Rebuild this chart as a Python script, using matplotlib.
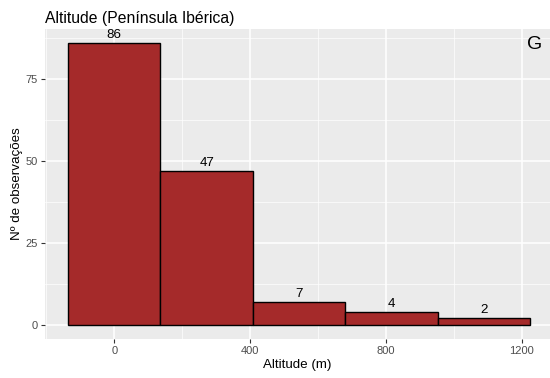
import numpy as np
import matplotlib
matplotlib.use("Agg")
import matplotlib.pyplot as plt

plt.rcParams['font.family'] = ['Liberation Sans', 'DejaVu Sans']

# histogram of altitude, 5 bins
bin_centers = [0, 272, 544, 816, 1088]
bin_width = 272
counts = [86, 47, 7, 4, 2]
x_ticks = [0, 400, 800, 1200]
y_ticks = [0, 25, 50, 75]

fig = plt.figure(figsize=(5.5, 3.78), dpi=100)
ax = fig.add_axes([45/550, 39/378, 505/550, 310/378])
ax.set_facecolor('#EBEBEB')

ax.set_xlim(-204, 1283)
ax.set_ylim(-4.3, 90.3)

# grid like ggplot
for v in [-200, 200, 600, 1000]:
    ax.axvline(v, color='white', lw=0.5, zorder=0)
for v in [12.5, 37.5, 62.5, 87.5]:
    ax.axhline(v, color='white', lw=0.5, zorder=0)
for v in x_ticks:
    ax.axvline(v, color='white', lw=1.1, zorder=0)
for v in y_ticks:
    ax.axhline(v, color='white', lw=1.1, zorder=0)

ax.bar(bin_centers, counts, width=bin_width, color='#A52A2A',
       edgecolor='black', linewidth=1.0, zorder=2)
for xc, c in zip(bin_centers, counts):
    ax.text(xc, c + 0.6, str(c), ha='center', va='bottom', fontsize=9.6,
            color='black', zorder=3)

ax.text(0.985, 0.95, 'G', transform=ax.transAxes, ha='right', va='center',
        fontsize=14, color='black')

ax.set_xticks(x_ticks)
ax.set_yticks(y_ticks)
ax.tick_params(axis='both', colors='#333333', labelcolor='#4D4D4D',
               labelsize=8, length=3, width=0.8, pad=2)
for s in ax.spines.values():
    s.set_visible(False)

ax.set_xlabel('Altitude (m)', fontsize=9.6, labelpad=2)
ax.set_ylabel('Nº de observações', fontsize=9.6, labelpad=2)
ax.set_title('Altitude (Península Ibérica)', fontsize=11.3, loc='left', pad=4)

fig.savefig('out.png', dpi=100)
